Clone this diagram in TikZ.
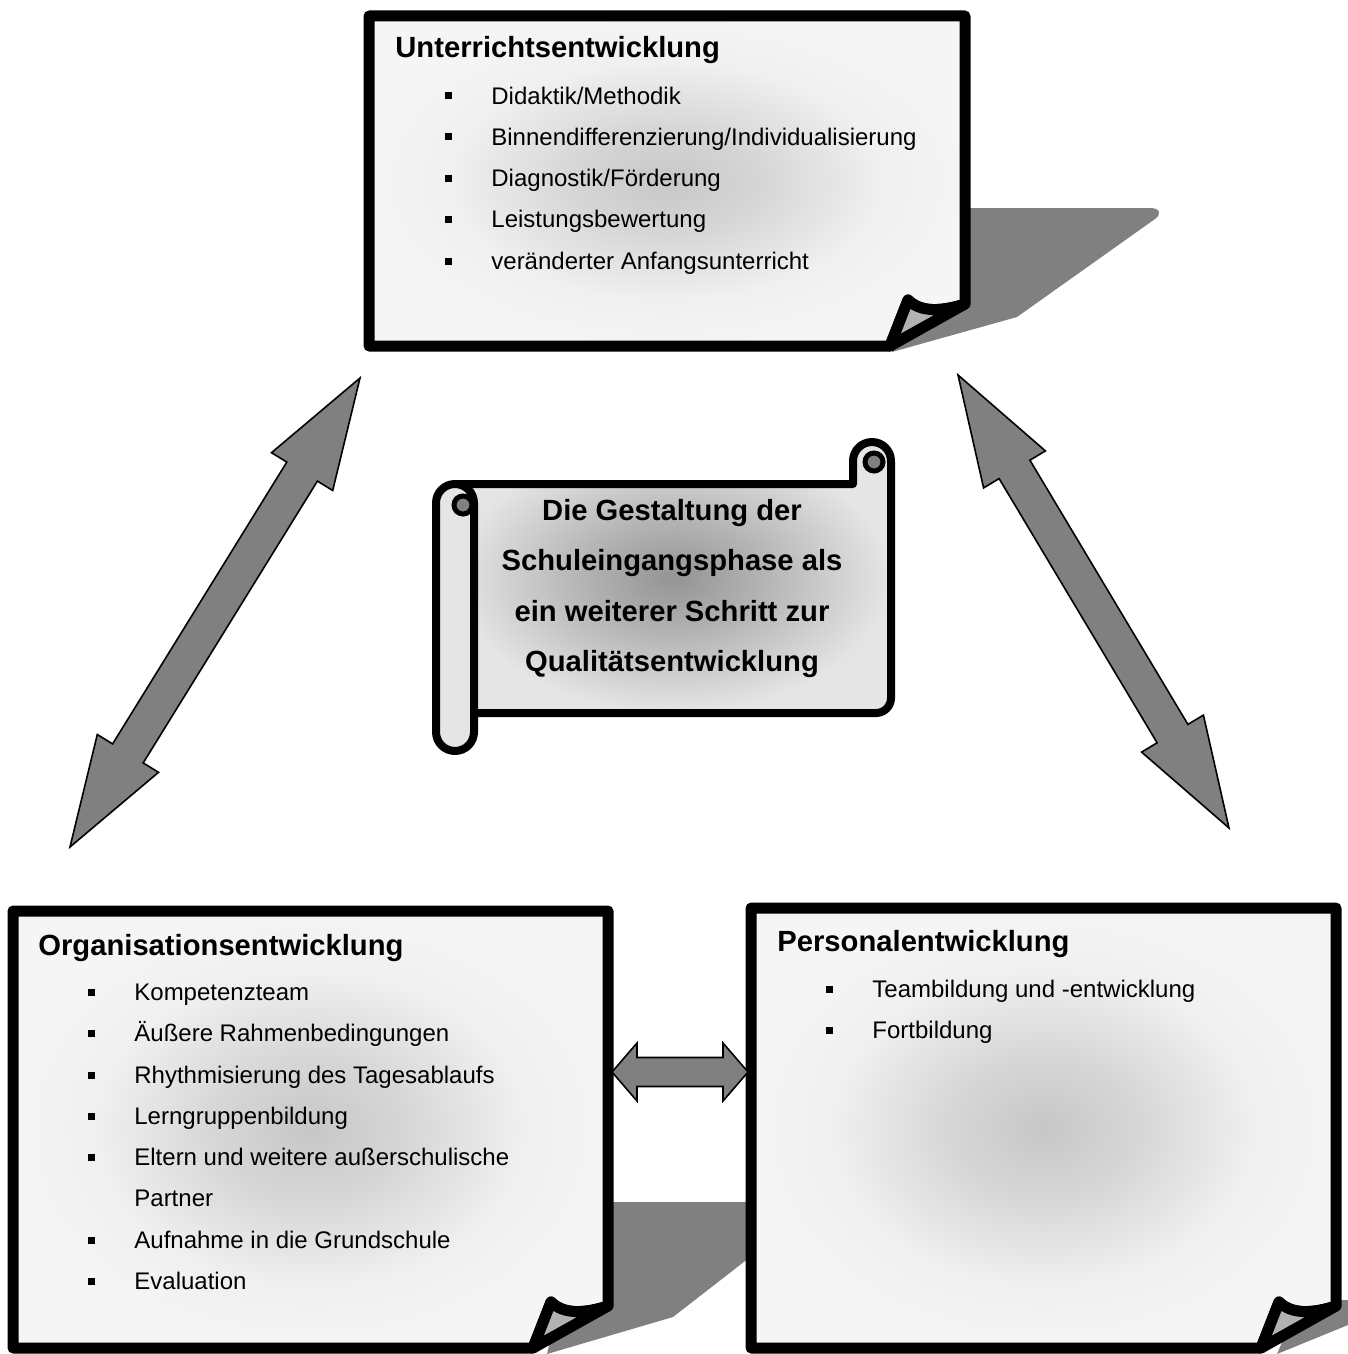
\documentclass[tikz,border=0pt]{standalone}
\usepackage{fontspec}
\setmainfont{Liberation Sans}
\pgfdeclareradialshading{boxshade}{\pgfpoint{0bp}{0bp}}{color(0bp)=(black!22); color(8bp)=(black!16); color(18bp)=(black!6); color(25bp)=(black!4); color(50bp)=(black!4)}
\pgfdeclareradialshading{scrollshade}{\pgfpoint{0bp}{0bp}}{color(0bp)=(black!42); color(10bp)=(black!30); color(25bp)=(black!10); color(50bp)=(black!10)}
\tikzset{
  pageline/.style={draw=black, line width=5.5pt, line join=round},
  flap/.style={pageline, fill=black!30},
  pageshadow/.style={fill=black!50},
  blockarrow/.style={fill=black!50, draw=black, line width=0.8pt},
  scrollline/.style={draw=black, line width=4pt, line join=round},
  spiral/.style={fill=black!50, draw=black, line width=2.5pt},
  headtext/.style={anchor=base west, inner sep=0pt, font=\fontsize{14.6}{17}\selectfont\bfseries},
  itemtext/.style={anchor=base west, inner sep=0pt, font=\fontsize{12}{14}\selectfont},
  itemmark/.style={fill=black, inner sep=0pt, minimum size=3.5pt},
  scrolltext/.style={anchor=base, inner sep=0pt, font=\fontsize{14.6}{17}\selectfont\bfseries},
}
% page with folded bottom-right corner: #1 x0, #2 y0, #3 x1, #4 y1
\newcommand\pagebox[4]{%
  \shade[shading=boxshade] (#1,#2) -- (#3,#2) -- (#3,#4-42)
    .. controls (#3-25,#4-34) and (#3-45,#4-34) .. (#3-57,#4-46)
    -- (#3-75,#4) -- (#1,#4) -- cycle;
  \path[pageline] (#1,#2) -- (#3,#2) -- (#3,#4-42)
    .. controls (#3-25,#4-34) and (#3-45,#4-34) .. (#3-57,#4-46)
    -- (#3-75,#4) -- (#1,#4) -- cycle;
  \path[flap] (#3-57,#4-46) .. controls (#3-45,#4-34) and (#3-25,#4-34) .. (#3,#4-42)
    -- (#3-75,#4) -- cycle;
}
\newcommand\listitem[5]{%
  \node[itemmark] (#1m) at (#2,#4) {};
  \node[itemtext] (#1) at (#3,#4+8.5) {#5};
}
\begin{document}
\begin{tikzpicture}[x=0.5pt,y=-0.5pt]
\useasboundingbox (0,0) rectangle (1348,1354);
\clip (0,0) rectangle (1348,1354);
% shadows
\path[pageshadow] (900,208) -- (1150,208) .. controls (1160,208) and (1162,214) .. (1155,219)
  -- (1017,317) -- (892,352) -- (900,300) -- cycle;
\path[pageshadow] (560,1202) -- (821,1202) -- (673,1317) -- (547,1354) -- (560,1300) -- cycle;
\path[pageshadow] (1300,1300) -- (1348,1300) -- (1348,1325) -- (1277,1354) -- cycle;
% pages
\pagebox{369}{16}{965}{346}
\pagebox{13}{911}{608}{1348}
\pagebox{751}{908}{1336}{1348}
% block arrows
\path[blockarrow] (360,378) -- (332.7,490.5) -- (317.4,481.1) -- (143.2,762.9) -- (158.5,772.3)
  -- (70,847) -- (97.3,734.5) -- (112.6,743.9) -- (286.8,462.1) -- (271.5,452.7) -- cycle;
\path[blockarrow] (958,375) -- (1045.4,450.9) -- (1029.9,460.2) -- (1187.9,724.4) -- (1203.4,715.1)
  -- (1229,828) -- (1141.6,752.1) -- (1157.1,742.8) -- (999.1,478.6) -- (983.6,487.9) -- cycle;
\path[blockarrow] (612,1072) -- (637,1043) -- (637,1057.5) -- (723,1057.5) -- (723,1043) -- (748,1072)
  -- (723,1101) -- (723,1086.5) -- (637,1086.5) -- (637,1101) -- cycle;
% scroll body
\shade[shading=scrollshade] (455,484) -- (853,484) -- (853,461) arc[start angle=180,end angle=360,radius=19]
  -- (891,698) arc[start angle=0,end angle=90,radius=15] -- (455,713) -- cycle;
\path[scrollline] (455,484) -- (853,484) -- (853,461) arc[start angle=180,end angle=360,radius=19]
  -- (891,698) arc[start angle=0,end angle=90,radius=15] -- (474,713);
\path[spiral] (874,462) circle[radius=9];
% left roll
\path[scrollline, fill=black!10] (436,503) -- (436,732) arc[start angle=180,end angle=0,radius=19]
  -- (474,503) arc[start angle=0,end angle=-180,radius=19] -- cycle;
\path[spiral] (463,505) circle[radius=9];
% texts
\node[headtext] (h1) at (395,58) {Unterrichtsentwicklung};
\listitem{u1}{448}{491}{96}{Didaktik/Methodik}
\listitem{u2}{448}{491}{137}{Binnendifferenzierung/Individualisierung}
\listitem{u3}{448}{491}{178}{Diagnostik/Förderung}
\listitem{u4}{448}{491}{219}{Leistungsbewertung}
\listitem{u5}{448}{491}{261}{veränderter Anfangsunterricht}
\node[headtext] (h2) at (38,955) {Organisationsentwicklung};
\listitem{o1}{91}{134}{992}{Kompetenzteam}
\listitem{o2}{91}{134}{1033}{Äußere Rahmenbedingungen}
\listitem{o3}{91}{134}{1075}{Rhythmisierung des Tagesablaufs}
\listitem{o4}{91}{134}{1116}{Lerngruppenbildung}
\listitem{o5}{91}{134}{1157}{Eltern und weitere außerschulische}
\node[itemtext] (o5b) at (134,1206.5) {Partner};
\listitem{o6}{91}{134}{1240}{Aufnahme in die Grundschule}
\listitem{o7}{91}{134}{1281}{Evaluation}
\node[headtext] (h3) at (777,951) {Personalentwicklung};
\listitem{p1}{829}{872}{989}{Teambildung und -entwicklung}
\listitem{p2}{829}{872}{1030}{Fortbildung}
\node[scrolltext] (s1) at (672,520) {Die Gestaltung der};
\node[scrolltext] (s2) at (672,570) {Schuleingangsphase als};
\node[scrolltext] (s3) at (672,621) {ein weiterer Schritt zur};
\node[scrolltext] (s4) at (672,671) {Qualitätsentwicklung};
\end{tikzpicture}
\end{document}
